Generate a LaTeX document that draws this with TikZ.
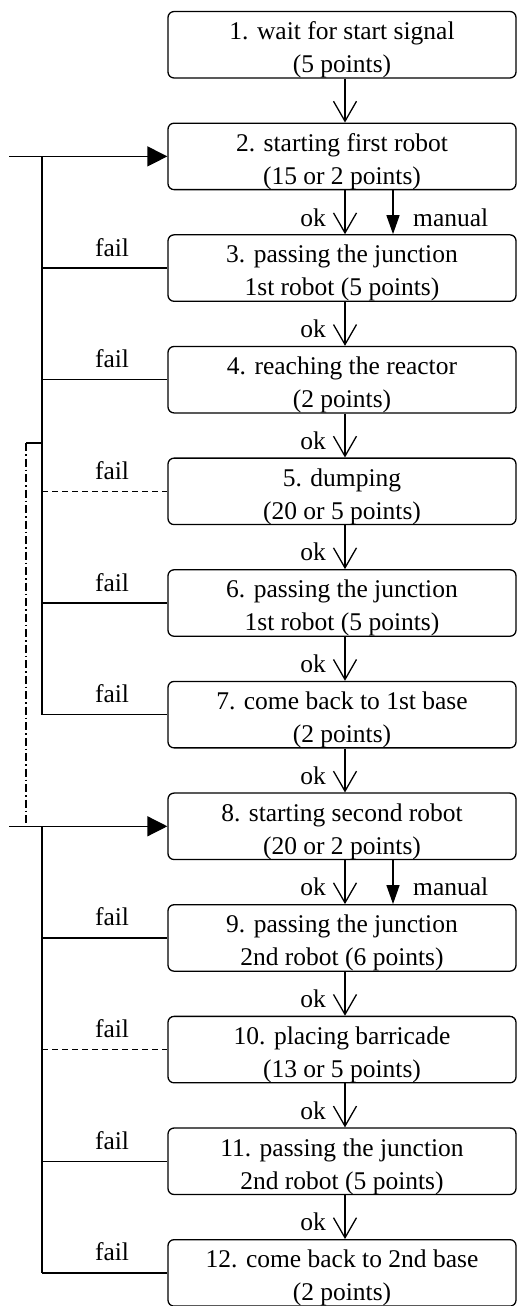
\documentclass[tikz,border=0pt]{standalone}
\usepackage{fontspec}
\setmainfont{Liberation Serif}
\usetikzlibrary{arrows.meta}
\newcommand\toppad{\rule{0pt}{28pt}}
\begin{document}
\begin{tikzpicture}[x=1pt,y=-1pt,
  stepbox/.style={draw, rounded corners=6pt, line width=1.3pt, minimum width=348pt, minimum height=63.5pt, inner sep=0pt, align=center, font=\fontsize{25.5}{33}\selectfont},
  okarrow/.style={line width=1.3pt, -{Straight Barb[length=20pt,width=23pt,line width=1.3pt]}},
  manarrow/.style={line width=1.3pt, -{Triangle[length=19pt,width=13pt]}},
  entry/.style={line width=1.3pt, -{Triangle[length=20pt,width=20pt]}},
  link/.style={line width=1.3pt},
  dashlink/.style={line width=1.3pt, dash pattern=on 6pt off 4pt},
  dashdot/.style={line width=1.3pt, dash pattern=on 8pt off 3pt on 1.5pt off 3pt},
  lbl/.style={font=\fontsize{25.5}{30}\selectfont, anchor=base, inner sep=0pt}
]
\useasboundingbox (0,0) rectangle (518,1306);

% boxes
\node[stepbox] (b1)  at (342,44.75)  {\toppad 1. wait for start signal\\(5 points)};
\node[stepbox] (b2)  at (342,156.4)  {\toppad 2. starting first robot\\(15 or 2 points)};
\node[stepbox] (b3)  at (342,268.05) {\toppad 3. passing the junction\\1st robot (5 points)};
\node[stepbox] (b4)  at (342,379.7)  {\toppad 4. reaching the reactor\\(2 points)};
\node[stepbox] (b5)  at (342,491.35) {\toppad 5. dumping\\(20 or 5 points)};
\node[stepbox] (b6)  at (342,603.0)  {\toppad 6. passing the junction\\1st robot (5 points)};
\node[stepbox] (b7)  at (342,714.65) {\toppad 7. come back to 1st base\\(2 points)};
\node[stepbox] (b8)  at (342,826.3)  {\toppad 8. starting second robot\\(20 or 2 points)};
\node[stepbox] (b9)  at (342,937.95) {\toppad 9. passing the junction\\2nd robot (6 points)};
\node[stepbox] (b10) at (342,1049.6) {\toppad 10. placing barricade\\(13 or 5 points)};
\node[stepbox] (b11) at (342,1161.25){\toppad 11. passing the junction\\2nd robot (5 points)};
\node[stepbox] (b12) at (342,1272.9) {\toppad 12. come back to 2nd base\\(2 points)};

% ok arrows
\foreach \a/\b in {b1/b2,b2/b3,b3/b4,b4/b5,b5/b6,b6/b7,b7/b8,b8/b9,b9/b10,b10/b11,b11/b12}
  \draw[okarrow] ([xshift=3pt]\a.south) -- ([xshift=3pt]\b.north);

% manual arrows
\draw[manarrow] ([xshift=51pt]b2.south) -- ([xshift=51pt]b3.north);
\draw[manarrow] ([xshift=51pt]b8.south) -- ([xshift=51pt]b9.north);

% ok labels
\node[lbl] (ok23)   at (313,226) {ok};
\node[lbl] (ok34)   at (313,337.65) {ok};
\node[lbl] (ok45)   at (313,449.3) {ok};
\node[lbl] (ok56)   at (313,560.95) {ok};
\node[lbl] (ok67)   at (313,672.6) {ok};
\node[lbl] (ok78)   at (313,784.25) {ok};
\node[lbl] (ok89)   at (313,895.9) {ok};
\node[lbl] (ok910)  at (313,1007.55) {ok};
\node[lbl] (ok1011) at (313,1119.2) {ok};
\node[lbl] (ok1112) at (313,1230.85) {ok};
\node[lbl,anchor=base west] (man1) at (413,226) {manual};
\node[lbl,anchor=base west] (man2) at (413,895.9) {manual};

% first loop
\coordinate (e1) at (9,156.4);
\coordinate (v1t) at (42,156.4);
\coordinate (v1b) at (42,714.65);
\draw[entry] (e1) -- (b2.west);
\draw[link] (v1t) -- (v1b);
\draw[link] (b3.west -| v1t) -- (b3.west);
\draw[link] (b4.west -| v1t) -- (b4.west);
\draw[dashlink] (b5.west -| v1t) -- (b5.west);
\draw[link] (b6.west -| v1t) -- (b6.west);
\draw[link] (b7.west -| v1t) -- (b7.west);

% second loop
\coordinate (e2) at (9,826.3);
\coordinate (v2t) at (42,826.3);
\coordinate (v2b) at (42,1272.9);
\draw[entry] (e2) -- (b8.west);
\draw[link] (v2t) -- (v2b);
\draw[link] (b9.west -| v2t) -- (b9.west);
\draw[dashlink] (b10.west -| v2t) -- (b10.west);
\draw[link] (b11.west -| v2t) -- (b11.west);
\draw[link] (b12.west -| v2t) -- (b12.west);

% dash-dot link
\coordinate (dd1) at (42,443);
\coordinate (dd2) at (26,443);
\coordinate (dd3) at (26,826.3);
\draw[link] (dd1) -- (dd2);
\draw[dashdot] (dd2) -- (dd3);

% fail labels
\foreach \b in {b3,b4,b5,b6,b7,b9,b10,b11,b12}
  \node[lbl] (fail\b) at ([yshift=12pt]\b.west -| 112,0) {fail};
\end{tikzpicture}
\end{document}
